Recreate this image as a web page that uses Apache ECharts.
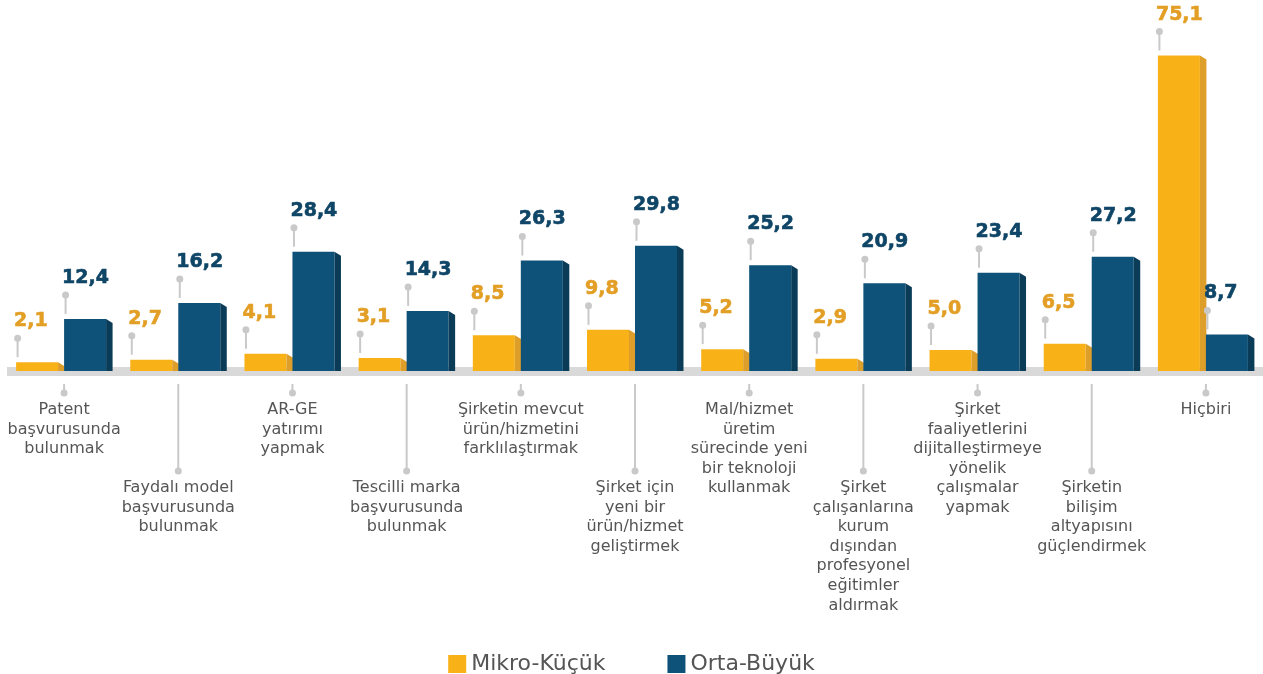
<!DOCTYPE html>
<html>
<head>
<meta charset="utf-8">
<script src="https://cdn.jsdelivr.net/npm/echarts@6/dist/echarts.min.js"></script>
<style>
	html,body{margin:0;padding:0;background:#fff;}
	#main{width:1263px;height:674px;}
</style>
</head>
<body>
<div id="main"></div>
<script>
var categories=[
	"Patent\nbaşvurusunda\nbulunmak",
	"Faydalı model\nbaşvurusunda\nbulunmak",
	"AR-GE\nyatırımı\nyapmak",
	"Tescilli marka\nbaşvurusunda\nbulunmak",
	"Şirketin mevcut\nürün/hizmetini\nfarklılaştırmak",
	"Şirket için\nyeni bir\nürün/hizmet\ngeliştirmek",
	"Mal/hizmet\nüretim\nsürecinde yeni\nbir teknoloji\nkullanmak",
	"Şirket\nçalışanlarına\nkurum\ndışından\nprofesyonel\neğitimler\naldırmak",
	"Şirket\nfaaliyetlerini\ndijitalleştirmeye\nyönelik\nçalışmalar\nyapmak",
	"Şirketin\nbilişim\naltyapısını\ngüçlendirmek",
	"Hiçbiri"
];
var mikroKucuk=[2.1,2.7,4.1,3.1,8.5,9.8,5.2,2.9,5.0,6.5,75.1];
var ortaBuyuk=[12.4,16.2,28.4,14.3,26.3,29.8,25.2,20.9,23.4,27.2,8.7];
var seriesNames=["Mikro-Küçük","Orta-Büyük"];

var font='"DejaVu Sans", sans-serif';
var pinColor='#c9c9c9';

// renk: ön yüz, yan yüz, etiket
var styles=[
	{front:'#F8B218',side:'#DE9E2A',label:'#E39F25',off:-48},
	{front:'#0E5279',side:'#0A3C58',label:'#0F4566',off:0}
];

function fmt(v){
	return v.toFixed(1).replace('.',',');
}

function barRender(s){
	return function(params,api){
		var idx=api.value(0);
		var top=api.coord([idx,api.value(1)]);
		var base=api.coord([idx,0]);
		var w=42,sw=6.5,drop=4;
		var x0=top[0]+s.off;
		var h=base[1]-top[1];
		var pinX=x0+1.5;
		var dotY=top[1]-24;
		return {
			type:'group',
			children:[
				{type:'rect',shape:{x:x0,y:top[1],width:w,height:h},style:{fill:s.front}},
				{type:'polygon',shape:{points:[[x0+w,top[1]],[x0+w+sw,top[1]+drop],[x0+w+sw,base[1]],[x0+w,base[1]]]},style:{fill:s.side}},
				{type:'line',shape:{x1:pinX,y1:dotY,x2:pinX,y2:top[1]-5},style:{stroke:pinColor,lineWidth:2}},
				{type:'circle',shape:{cx:pinX,cy:dotY,r:3.5},style:{fill:pinColor}},
				{type:'text',x:x0-2,y:dotY-17,style:{text:fmt(api.value(1)),fill:s.label,stroke:s.label,lineWidth:0.6,font:'bold 19px '+font,textAlign:'left',textVerticalAlign:'middle'}}
			]
		};
	};
}

function catRender(params,api){
	var idx=api.value(0);
	var p=api.coord([idx,0]);
	var longLine=idx%2==1;
	var dotY=p[1]+(longLine?100:22);
	return {
		type:'group',
		children:[
			{type:'line',shape:{x1:p[0],y1:p[1]+13,x2:p[0],y2:dotY},style:{stroke:pinColor,lineWidth:2}},
			{type:'circle',shape:{cx:p[0],cy:dotY,r:3.5},style:{fill:pinColor}},
			{type:'text',x:p[0],y:dotY+7,style:{text:categories[idx],fill:'#555555',font:'16px '+font,textAlign:'center',textVerticalAlign:'top',lineHeight:19.6}}
		]
	};
}

var catData=[],yData=[],bData=[];
for(var i=0;i<categories.length;i++){
	catData.push([i]);
	yData.push([i,mikroKucuk[i]]);
	bData.push([i,ortaBuyuk[i]]);
}

var myChart=echarts.init(document.getElementById('main'));
myChart.setOption({
	animation:false,
	legend:{
		data:seriesNames,
		top:648,
		left:'center',
		icon:'rect',
		itemWidth:18,
		itemHeight:18,
		itemGap:62,
		textStyle:{fontFamily:font,fontSize:22,color:'#555'}
	},
	grid:{left:7,top:35,width:1261,bottom:303},
	xAxis:{
		type:'category',
		data:categories,
		offset:5,
		axisLine:{show:true,lineStyle:{color:'#d9d9d9',width:9,cap:'butt'}},
		axisTick:{show:false},
		axisLabel:{show:false}
	},
	yAxis:{type:'value',min:0,max:80,show:false,splitLine:{show:false}},
	series:[
		{name:seriesNames[0],type:'custom',renderItem:barRender(styles[0]),data:yData,itemStyle:{color:styles[0].front},encode:{x:0,y:1}},
		{name:seriesNames[1],type:'custom',renderItem:barRender(styles[1]),data:bData,itemStyle:{color:styles[1].front},encode:{x:0,y:1}},
		{name:'kategori',type:'custom',renderItem:catRender,data:catData,encode:{x:0},silent:true}
	]
});
</script>
</body>
</html>
